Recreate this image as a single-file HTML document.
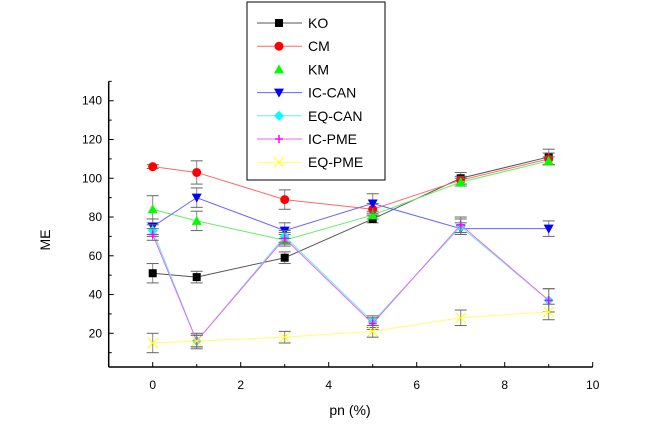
<!DOCTYPE html>
<html><head><meta charset="utf-8"><style>
body{margin:0;background:#fff}
svg{display:block;font-family:"Liberation Sans",sans-serif}
</style></head><body>
<svg id="c" width="649" height="440"></svg>
<script>
const xs=[0,1,3,5,7,9];
const names=["KO","CM","KM","IC-CAN","EQ-CAN","IC-PME","EQ-PME"];
const colors=["#000","#f00","#0f0","#00f","#0ff","#f0f","#ff0"];
const lineColors=["#555","#f66","#6e6","#66f","#6ee","#e6e","#ff6"];
const koVals=[51,49,59,79,100,111];
const cmVals=[106,103,89,84,99,110];
const kmVals=[84,78,68,81,98,109];
const iccanVals=[75,90,73,87,74,74];
const eqcanVals=[73,16,70,26,75,37];
const icpmeVals=[71,16,69,25,76,37];
const eqpmeVals=[15,16,18,21,28,31];
const koErr=[5,3,3,2,3,4];
const cmErr=[1,6,5,3,2,3];
const kmErr=[7,5,3,2,2,2];
const iccanErr=[4,5,4,5,3,4];
const eqcanErr=[3,4,3,3,4,6];
const icpmeErr=[3,3,3,3,4,6];
const eqpmeErr=[5,3,3,3,4,4];
const xTicks=[0,2,4,6,8,10];
const yTicks=[20,40,60,80,100,120,140];
const series=[koVals,cmVals,kmVals,iccanVals,eqcanVals,icpmeVals,eqpmeVals];
const errs=[koErr,cmErr,kmErr,iccanErr,eqcanErr,icpmeErr,eqpmeErr];
const X=v=>152.7+(v)*44, Y=v=>333.3-(v-20)*1.938;
const svg=document.getElementById('c'),NS='http://www.w3.org/2000/svg';
function mk(t,a,p){const e=document.createElementNS(NS,t);for(const k in a)e.setAttribute(k,a[k]);(p||svg).appendChild(e);return e;}
// axes
let ax=mk('g',{});


mk('line',{x1:X(-1),y1:Y(150),x2:X(-1),y2:367,stroke:'#000','stroke-width':1.5},ax);
mk('line',{x1:X(-1),y1:367,x2:X(10),y2:367,stroke:'#000','stroke-width':1.5},ax);
for(let v=-1;v<=10;v++){mk('line',{x1:X(v),y1:367,x2:X(v),y2:v%2==0?362:364,stroke:'#000'},ax);}
xTicks.forEach(v=>{const t=mk('text',{x:X(v),y:389,'font-size':12,'text-anchor':'middle'},ax);t.textContent=v;
});
for(let v=10;v<=150;v+=10){mk('line',{x1:X(-1),y1:Y(v),x2:X(-1)+(v%20==0?5:3),y2:Y(v),stroke:'#000'},ax);}
yTicks.forEach(v=>{const t=mk('text',{x:102,y:Y(v)+4,'font-size':12,'text-anchor':'end'},ax);t.textContent=v;
});
let xl=mk('text',{x:350,y:415,'font-size':14,'text-anchor':'middle'});xl.textContent='pn (%)';

let yl=mk('text',{x:50,y:240,'font-size':14,'text-anchor':'middle',transform:'rotate(-90 50 240)'});yl.textContent='ME';

function marker(i,x,y,g){const c=colors[i];
 if(i==0)mk('rect',{x:x-4,y:y-4,width:8,height:8,fill:c},g);
 else if(i==1)mk('circle',{cx:x,cy:y,r:4.5,fill:c},g);
 else if(i==2)mk('polygon',{points:`${x-5},${y+4} ${x+5},${y+4} ${x},${y-5}`,fill:c},g);
 else if(i==3)mk('polygon',{points:`${x-5},${y-4} ${x+5},${y-4} ${x},${y+5}`,fill:c},g);
 else if(i==4)mk('polygon',{points:`${x},${y-5} ${x+5},${y} ${x},${y+5} ${x-5},${y}`,fill:c},g);
 else if(i==5){mk('line',{x1:x-4,y1:y,x2:x+4,y2:y,stroke:c,'stroke-width':1.5},g);mk('line',{x1:x,y1:y-4,x2:x,y2:y+4,stroke:c,'stroke-width':1.5},g);}
 else{mk('line',{x1:x-5,y1:y-5,x2:x+5,y2:y+5,stroke:c},g);mk('line',{x1:x-5,y1:y+5,x2:x+5,y2:y-5,stroke:c},g);}
}
series.forEach((vals,i)=>{
 const g=mk('g',{});
 
 
 mk('polyline',{points:vals.map((v,j)=>X(xs[j])+','+Y(v)).join(' '),fill:'none',stroke:lineColors[i],'stroke-width':1},g);
 vals.forEach((v,j)=>{const x=X(xs[j]),e=errs[i][j];
  mk('line',{x1:x,y1:Y(v-e),x2:x,y2:Y(v+e),stroke:'#888'},g);
  mk('line',{x1:x-6,y1:Y(v-e),x2:x+6,y2:Y(v-e),stroke:'#666'},g);
  mk('line',{x1:x-6,y1:Y(v+e),x2:x+6,y2:Y(v+e),stroke:'#666'},g);
 });
 vals.forEach((v,j)=>marker(i,X(xs[j]),Y(v),g));
});
// legend
const lg=mk('g',{});


mk('rect',{x:247,y:2,width:138,height:178,fill:'#fff',stroke:'#000','stroke-width':1},lg);
names.forEach((n,i)=>{const y=23+i*23.2;
 const e=mk('g',{},lg);
 
 
 if(i!=2)mk('line',{x1:257,y1:y,x2:302,y2:y,stroke:lineColors[i]},e);
 marker(i,279,y,e);
 const t=mk('text',{x:308,y:y+5,'font-size':14,fill:'#000'},e);t.textContent=n;});
</script>
</body></html>
